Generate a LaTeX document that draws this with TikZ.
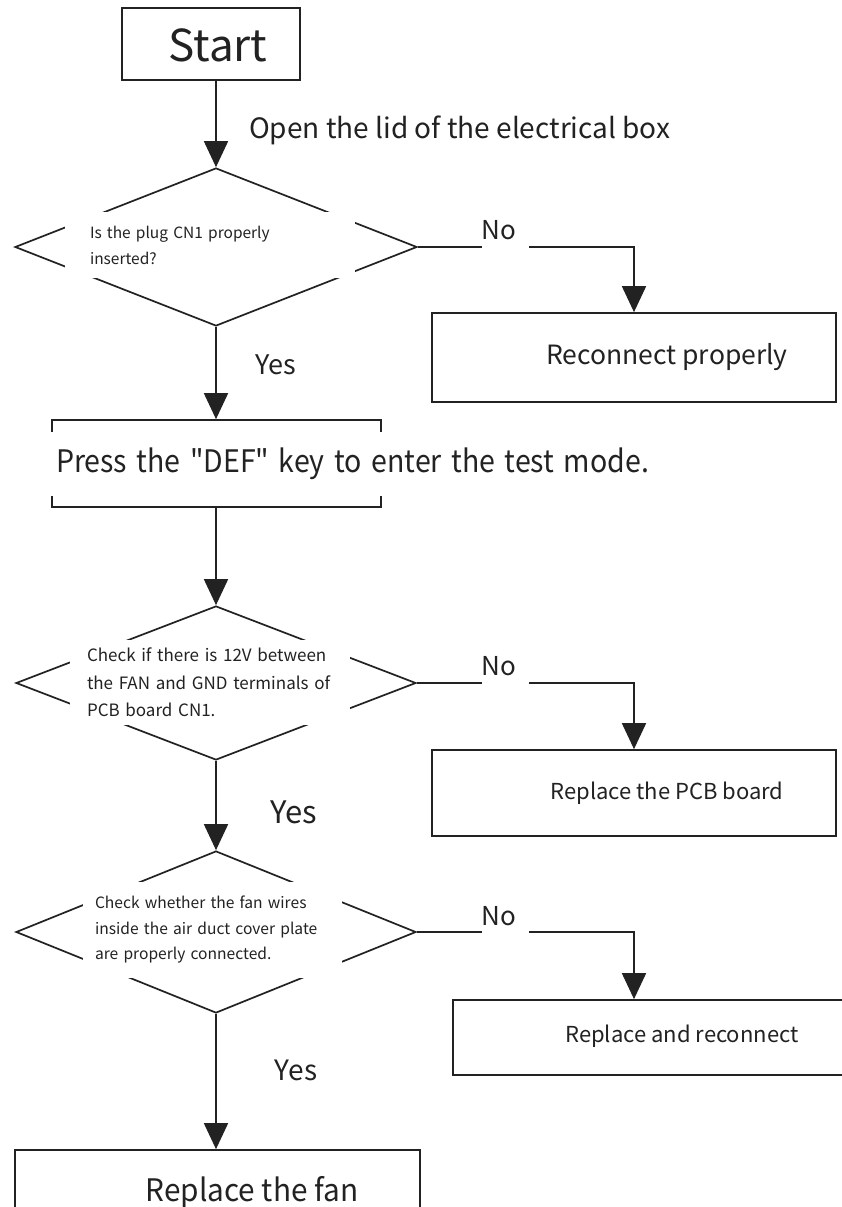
\documentclass[tikz,border=0pt]{standalone}
\usepackage{graphicx}
\usepackage{fontspec}
\setmainfont[Ligatures=TeXOff]{Noto Sans CJK SC}
\usetikzlibrary{arrows.meta,shapes.geometric}

\definecolor{ink}{HTML}{222222}

\tikzset{
  flow/.style={draw=ink, line width=1.7pt},
  arr/.style={flow, -{Triangle[width=24pt,length=26pt]}},
  box/.style={draw=ink, line width=1.7pt, rectangle, inner sep=0pt},
  decision/.style={draw=ink, line width=1.7pt, diamond, inner sep=0pt},
  patch/.style={fill=white, inner ysep=0pt, align=left, text=ink},
  lbl/.style={text=ink, inner sep=0pt},
}

\begin{document}
\begin{tikzpicture}[x=1pt, y=-1pt]
  \clip (0,0) rectangle (842,1207);
  \fill[white] (0,0) rectangle (842,1207);

  % start
  \node[box, minimum width=178pt, minimum height=72pt] (start) at (211,44) {};
  \node[lbl, font=\fontsize{44}{50}\selectfont] (startt) at (218,45) {Start};

  % first check
  \node[decision, minimum width=402pt, minimum height=158pt] (d1) at (216,247) {};
  \node[patch, minimum width=290pt, minimum height=66pt, inner xsep=25pt,
        text width=240pt, font=\fontsize{15.5}{26}\selectfont] (d1t) at (210,245)
        {Is the plug CN1 properly\\inserted?};
  \node[lbl, anchor=west, font=\fontsize{28}{32}\selectfont] (open) at (249,130)
        {Open the lid of the electrical box};

  \node[box, minimum width=404pt, minimum height=89pt] (r1) at (634,357.5) {};
  \node[lbl, font=\fontsize{26.5}{30}\selectfont] (r1t) at (667,357) {Reconnect properly};
  \node[lbl, font=\fontsize{26}{30}\selectfont] (no1) at (499,230) {No};
  \node[lbl, font=\fontsize{27}{30}\selectfont] (yes1) at (276,365) {Yes};

  % test mode
  \node[box, minimum width=329pt, minimum height=87pt] (p) at (216.5,463.5) {};
  \node[patch, minimum width=610pt, minimum height=64pt, inner xsep=11pt,
        text width=588pt, font=\fontsize{31}{36}\selectfont] (pt) at (350,464)
        {\scalebox{0.92}[1]{Press the "DEF" key to enter the test mode.}};

  % second check
  \node[decision, minimum width=400pt, minimum height=154pt] (d2) at (216,683) {};
  \node[patch, minimum width=280pt, minimum height=85pt, inner xsep=17pt,
        text width=246pt, font=\fontsize{17}{27.5}\selectfont] (d2t) at (210,682.5)
        {Check if there is 12V between\\the FAN and GND terminals of\\PCB board CN1.};

  \node[box, minimum width=404pt, minimum height=86pt] (r2) at (634,793) {};
  \node[lbl, font=\fontsize{22}{26}\selectfont] (r2t) at (667,793) {Replace the PCB board};
  \node[lbl, font=\fontsize{26}{30}\selectfont] (no2) at (499,666) {No};
  \node[lbl, font=\fontsize{31}{34}\selectfont] (yes2) at (294,812) {Yes};

  % third check
  \node[decision, minimum width=400pt, minimum height=162pt] (d3) at (216,932) {};
  \node[patch, minimum width=259pt, minimum height=96pt, inner xsep=12pt,
        text width=235pt, font=\fontsize{15.6}{25.5}\selectfont] (d3t) at (212.5,930)
        {Check whether the fan wires\\inside the air duct cover plate\\are properly connected.};

  \node[box, minimum width=392pt, minimum height=75pt] (r3) at (649,1037.5) {};
  \node[lbl, font=\fontsize{22}{26}\selectfont] (r3t) at (682,1036) {Replace and reconnect};
  \node[lbl, font=\fontsize{26}{30}\selectfont] (no3) at (499,916) {No};
  \node[lbl, font=\fontsize{28}{32}\selectfont] (yes3) at (296,1070) {Yes};

  % final action
  \node[box, minimum width=405pt, minimum height=70pt] (fan) at (217.5,1185) {};
  \node[lbl, font=\fontsize{31}{34}\selectfont] (fant) at (252,1192)
        {\scalebox{0.96}[1]{Replace the fan}};

  % connectors down the main line
  \draw[arr] (d1.north |- start.south) -- (d1.north);
  \draw[arr] (d1.south) -- (p.north -| d1.south);
  \draw[arr] (p.south -| d2.north) -- (d2.north);
  \draw[arr] (d2.south) -- (d3.north);
  \draw[arr] (d3.south) -- (fan.north -| d3.south);

  % "No" branches
  \draw[flow] (d1.east) -- (d1.east -| no1.west);
  \draw[arr] ([xshift=13pt]no1.east |- d1.east) -| (r1.north);
  \draw[flow] (d2.east) -- (d2.east -| no2.west);
  \draw[arr] ([xshift=13pt]no2.east |- d2.east) -| (r2.north);
  \draw[flow] (d3.east) -- (d3.east -| no3.west);
  \draw[arr] ([xshift=13pt]no3.east |- d3.east) -| (r3.north -| r2.north);
\end{tikzpicture}
\end{document}
